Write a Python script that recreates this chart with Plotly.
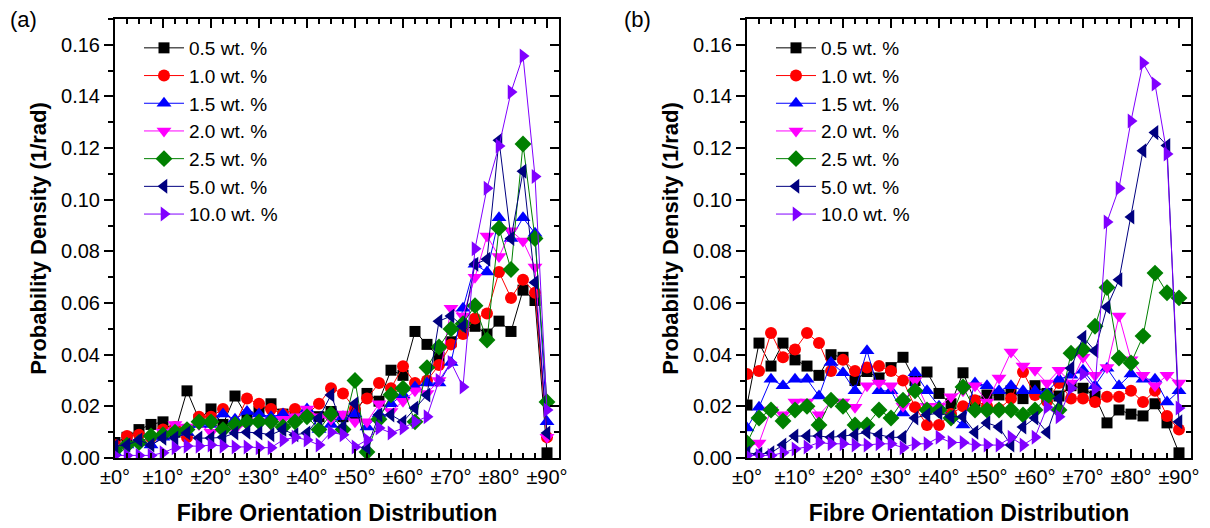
import plotly.graph_objects as go

angles = [i * 2.5 for i in range(37)]
labels = ["0.5 wt. %", "1.0 wt. %", "1.5 wt. %", "2.0 wt. %", "2.5 wt. %", "5.0 wt. %", "10.0 wt. %"]
colors = ["#000000", "#FF0000", "#0000FF", "#FF00FF", "#008000", "#000080", "#8000FF"]
symbols = ["square", "circle", "triangle-up", "triangle-down", "diamond", "triangle-left", "triangle-right"]
msizes = [11, 12, 13, 13, 13, 13, 13]
tick_vals = [0, 10, 20, 30, 40, 50, 60, 70, 80, 90]
tick_text = ["±0°", "±10°", "±20°", "±30°", "±40°", "±50°", "±60°", "±70°", "±80°", "±90°"]

# Panel (a)
a_05 = [0.006,0.008,0.011,0.013,0.014,0.010,0.026,0.015,0.019,0.013,0.024,0.016,0.018,0.021,0.017,0.016,0.017,0.016,0.018,0.016,0.017,0.025,0.022,0.034,0.032,0.049,0.044,0.039,0.045,0.050,0.051,0.048,0.053,0.049,0.065,0.061,0.002]
a_10 = [0.005,0.0085,0.009,0.008,0.011,0.012,0.008,0.016,0.016,0.019,0.013,0.023,0.021,0.019,0.017,0.019,0.017,0.021,0.027,0.025,0.019,0.023,0.029,0.027,0.0355,0.029,0.030,0.036,0.044,0.048,0.054,0.056,0.072,0.062,0.069,0.064,0.008]
a_15 = [0.002,0.005,0.006,0.005,0.008,0.011,0.010,0.013,0.013,0.017,0.015,0.018,0.017,0.016,0.017,0.015,0.019,0.011,0.013,0.016,0.017,0.012,0.017,0.021,0.0245,0.0275,0.029,0.029,0.037,0.058,0.075,0.072,0.093,0.085,0.093,0.087,0.014]
a_20 = [0.004,0.004,0.006,0.008,0.010,0.013,0.012,0.013,0.010,0.011,0.011,0.013,0.014,0.013,0.015,0.016,0.019,0.016,0.015,0.017,0.014,0.014,0.021,0.018,0.022,0.026,0.025,0.030,0.058,0.055,0.070,0.086,0.078,0.088,0.084,0.074,0.008]
a_25 = [0.003,0.005,0.006,0.0085,0.009,0.010,0.011,0.014,0.014,0.011,0.013,0.014,0.014,0.014,0.012,0.014,0.016,0.011,0.017,0.011,0.030,0.0023,0.015,0.0245,0.027,0.014,0.035,0.043,0.050,0.052,0.059,0.0457,0.089,0.073,0.1216,0.085,0.0217]
a_50 = [0.0046,0.005,0.007,0.005,0.0077,0.0077,0.0097,0.0077,0.0077,0.008,0.0097,0.010,0.0097,0.009,0.011,0.009,0.0097,0.0155,0.0244,0.012,0.021,0.004,0.0167,0.0167,0.014,0.0194,0.0244,0.053,0.055,0.051,0.075,0.077,0.123,0.085,0.111,0.068,0.0097]
a_100 = [0.001,0.001,0.001,0.001,0.002,0.004,0.0046,0.0046,0.005,0.0046,0.0043,0.0043,0.004,0.004,0.007,0.008,0.007,0.005,0.010,0.009,0.0043,0.007,0.0116,0.0097,0.0116,0.014,0.016,0.030,0.037,0.0275,0.081,0.1045,0.1208,0.1417,0.1557,0.109,0.0186]

# Panel (b)
b_05 = [0.0205,0.0445,0.0356,0.0445,0.038,0.0356,0.032,0.040,0.039,0.030,0.0335,0.031,0.035,0.039,0.030,0.0333,0.025,0.021,0.033,0.022,0.0244,0.0244,0.026,0.023,0.028,0.025,0.024,0.028,0.027,0.024,0.0136,0.0186,0.017,0.0163,0.021,0.0136,0.002]
b_10 = [0.0325,0.0337,0.0484,0.039,0.042,0.0484,0.0445,0.0337,0.038,0.0337,0.035,0.0356,0.0337,0.030,0.0197,0.0128,0.0128,0.017,0.020,0.0224,0.020,0.019,0.023,0.0333,0.0244,0.022,0.029,0.023,0.023,0.0217,0.0237,0.0237,0.026,0.0217,0.026,0.0163,0.011]
b_15 = [0.0116,0.0197,0.0305,0.028,0.0305,0.0305,0.024,0.037,0.033,0.026,0.0415,0.026,0.026,0.0174,0.033,0.026,0.020,0.016,0.0128,0.029,0.028,0.026,0.028,0.026,0.026,0.0256,0.0305,0.032,0.034,0.028,0.0348,0.028,0.0325,0.0305,0.0305,0.0217,0.026]
b_20 = [0.0043,0.0058,0.0186,0.0167,0.0217,0.0217,0.0167,0.0217,0.0217,0.0197,0.028,0.029,0.028,0.020,0.030,0.020,0.020,0.0237,0.026,0.028,0.0217,0.031,0.041,0.0356,0.034,0.029,0.034,0.029,0.039,0.032,0.035,0.055,0.038,0.032,0.028,0.032,0.029]
b_25 = [0.0058,0.0155,0.0186,0.0143,0.0186,0.020,0.0128,0.0224,0.020,0.0128,0.0128,0.0186,0.0155,0.0224,0.026,0.0186,0.0186,0.0155,0.0275,0.0186,0.0186,0.0186,0.0186,0.0167,0.0186,0.0237,0.0186,0.0406,0.042,0.051,0.066,0.0387,0.0368,0.0472,0.0716,0.064,0.062]
b_50 = [0.002,0.0015,0.002,0.005,0.0085,0.0085,0.0085,0.008,0.0085,0.009,0.010,0.009,0.008,0.008,0.0155,0.0167,0.0174,0.016,0.016,0.010,0.0136,0.012,0.005,0.012,0.0155,0.010,0.023,0.0348,0.0468,0.0415,0.0585,0.069,0.0933,0.119,0.126,0.121,0.014]
b_100 = [0.001,0.001,0.001,0.002,0.0035,0.0043,0.006,0.0055,0.0055,0.005,0.005,0.0055,0.0055,0.004,0.0055,0.0055,0.008,0.006,0.006,0.005,0.005,0.005,0.008,0.005,0.008,0.0197,0.016,0.027,0.0325,0.0267,0.0914,0.1045,0.1305,0.153,0.1448,0.1177,0.0194]

panel_a = [a_05, a_10, a_15, a_20, a_25, a_50, a_100]
panel_b = [b_05, b_10, b_15, b_20, b_25, b_50, b_100]

FONT = "Arial, Liberation Sans, sans-serif"
W, H = 1210, 528

fig = go.Figure()
for panel, (xa, ya, leg) in zip([panel_a, panel_b], [("x", "y", "legend"), ("x2", "y2", "legend2")]):
    for vals, name, col, sym, ms in zip(panel, labels, colors, symbols, msizes):
        fig.add_trace(go.Scatter(
            x=angles, y=vals, name=name, mode="lines+markers",
            xaxis=xa, yaxis=ya, legend=leg,
            line=dict(color=col, width=1),
            marker=dict(symbol=sym, size=ms, color=col, line=dict(width=0)),
        ))

# dummy traces for right-side inner tick axes
fig.add_trace(go.Scatter(x=[], y=[], xaxis="x", yaxis="y3", showlegend=False))
fig.add_trace(go.Scatter(x=[], y=[], xaxis="x2", yaxis="y4", showlegend=False))

xdom_a = [115 / W, 559 / W]
xdom_b = [747 / W, 1191 / W]
ydom = [1 - 458 / H, 1 - 19 / H]

def xaxis_cfg(dom, anchor):
    return dict(
        domain=dom, anchor=anchor, range=[0, 92.5],
        tickvals=tick_vals, ticktext=tick_text,
        ticks="inside", ticklen=9, tickwidth=1.5, tickcolor="black",
        minor=dict(dtick=2.5, tick0=0, ticks="inside", ticklen=5, tickwidth=1.5, tickcolor="black"),
        showline=True, linecolor="black", linewidth=2, mirror="ticks",
        showgrid=False, zeroline=False,
        tickfont=dict(family=FONT, size=20, color="black"),
        title=dict(text="<b>Fibre Orientation Distribution</b>", font=dict(family=FONT, size=23, color="black"), standoff=18),
        automargin=False,
    )

def yaxis_cfg(dom, anchor):
    return dict(
        domain=dom, anchor=anchor, range=[0, 0.17],
        tick0=0, dtick=0.02, tickformat=".2f",
        ticks="outside", ticklen=9, tickwidth=1.5, tickcolor="black",
        minor=dict(dtick=0.01, tick0=0, ticks="outside", ticklen=5, tickwidth=1.5, tickcolor="black"),
        showline=True, linecolor="black", linewidth=2, mirror=True,
        showgrid=False, zeroline=False,
        tickfont=dict(family=FONT, size=20, color="black"),
        title=dict(text="<b>Probability Density (1/rad)</b>", font=dict(family=FONT, size=22, color="black"), standoff=8),
        automargin=False,
    )

def yright_cfg(overlay, anchor):
    return dict(
        overlaying=overlay, side="right", anchor=anchor, range=[0, 0.17],
        tick0=0, dtick=0.02, ticks="inside", ticklen=9, tickwidth=1.5, tickcolor="black",
        minor=dict(dtick=0.01, tick0=0, ticks="inside", ticklen=5, tickwidth=1.5, tickcolor="black"),
        showticklabels=False, showline=False, showgrid=False, zeroline=False,
    )

legend_common = dict(
    xanchor="left", yanchor="top", bgcolor="rgba(0,0,0,0)", borderwidth=0,
    font=dict(family=FONT, size=19, color="black"), itemwidth=40,
    tracegroupgap=0,
)

fig.update_layout(
    width=W, height=H,
    margin=dict(l=0, r=0, t=0, b=0),
    paper_bgcolor="white", plot_bgcolor="white",
    xaxis=xaxis_cfg(xdom_a, "y"),
    yaxis=yaxis_cfg(ydom, "x"),
    xaxis2=xaxis_cfg(xdom_b, "y2"),
    yaxis2=yaxis_cfg(ydom, "x2"),
    yaxis3=yright_cfg("y", "x"),
    yaxis4=yright_cfg("y2", "x2"),
    legend=dict(x=139 / W, y=1 - 29 / H, **legend_common),
    legend2=dict(x=771 / W, y=1 - 29 / H, **legend_common),
    annotations=[
        dict(text="(a)", x=8 / W, y=1 - 20 / H, xref="paper", yref="paper", xanchor="left", yanchor="middle",
             showarrow=False, font=dict(family=FONT, size=22, color="black")),
        dict(text="(b)", x=622 / W, y=1 - 20 / H, xref="paper", yref="paper", xanchor="left", yanchor="middle",
             showarrow=False, font=dict(family=FONT, size=22, color="black")),
    ],
    showlegend=True,
)

fig.write_html("out.html")
